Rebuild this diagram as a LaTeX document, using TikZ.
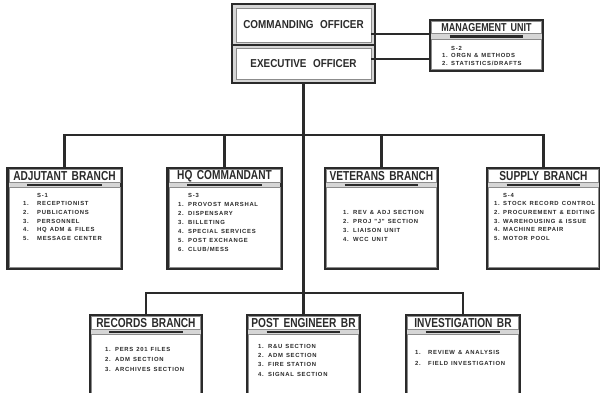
\documentclass[tikz,border=0pt]{standalone}
\usepackage{fontspec}
\setmainfont{Liberation Sans}
\newfontfamily\headfont[FakeStretch=0.78, WordSpace=1.6]{Liberation Sans}
\newfontfamily\chieffont[FakeStretch=0.86, WordSpace=2.4]{Liberation Sans}
\newfontfamily\itemfont[LetterSpace=12, WordSpace=1.3]{Liberation Sans}
\usetikzlibrary{positioning, calc}
\definecolor{ink}{HTML}{2A2A2A}
\definecolor{mat}{HTML}{D6D6D6}
\newcommand{\unitno}[2][10pt]{\makebox[#1][l]{#2}}

\begin{document}
\begin{tikzpicture}[x=1pt, y=1pt,
  frame/.style={draw=ink, line width=2.6pt, fill=mat},
  branch/.style={frame, anchor=north, minimum width=114, minimum height=100},
  panel/.style={draw=black!45, line width=0.6pt, fill=white},
  link/.style={draw=ink, line width=2.6pt},
  ulbar/.style={ink, line width=2.2pt},
  heading/.style={font=\headfont\bfseries\fontsize{#1}{#1}\selectfont, text=ink, inner sep=0},
  heading/.default=13,
  chief/.style={panel, minimum width=135, font=\chieffont\bfseries\fontsize{11.5}{11.5}\selectfont, text=ink},
  bodytext/.style={anchor=north west, align=left, inner sep=0, text=ink,
    font=\itemfont\bfseries\fontsize{5.9}{#1}\selectfont},
  bodytext/.default=8.8
]
  \useasboundingbox (0,0) rectangle (600,392);
  \clip (0,0) rectangle (600,392);

  % Command group
  \node[frame, minimum width=143, minimum height=79] (cmd) at (303.5,348.5) {};
  \node[chief, minimum height=34] (co) at (303.5,367) {COMMANDING OFFICER};
  \node[chief, minimum height=31] (xo) at (303.5,328.5) {EXECUTIVE OFFICER};
  \coordinate (mid) at ($(co.south)!.5!(xo.north)$);
  \draw[link] (mid -| cmd.west) -- (mid -| cmd.east);

  % Staff unit and branches
  \node[frame, minimum width=113, minimum height=51] (mu) at (486.5,346.5) {};
  \node[branch] (adj) at (64.5,225) {};
  \node[branch] (hq) at (224.5,225) {};
  \node[branch, minimum width=113] (vet) at (381.5,225) {};
  \node[branch, minimum width=113] (sup) at (543.5,225) {};
  \node[branch, minimum width=112] (rec) at (146,78) {};
  \node[branch, minimum width=113] (pe) at (303.5,78) {};
  \node[branch] (inv) at (463,78) {};

  \foreach \n in {mu,adj,hq,vet,sup,rec,pe,inv} {
    \draw[panel] ([shift={(2.6,-2.6)}]\n.north west) rectangle ([shift={(-2.6,-15)}]\n.north east);
    \draw[panel] ([shift={(2.6,-20.5)}]\n.north west) rectangle ([shift={(-2.6,2.6)}]\n.south east);
    \draw[ulbar] ($(\n.north west)!.18!(\n.north east)+(0,-17.8)$)
      -- ($(\n.north west)!.82!(\n.north east)+(0,-17.8)$);
  }

  % Titles
  \node[heading=11.5] (mu-t) at ([yshift=-8.5]mu.north) {MANAGEMENT UNIT};
  \node[heading] (adj-t) at ([yshift=-9]adj.north) {ADJUTANT BRANCH};
  \node[heading] (hq-t) at ([yshift=-9]hq.north) {HQ COMMANDANT};
  \node[heading] (vet-t) at ([yshift=-9]vet.north) {VETERANS BRANCH};
  \node[heading] (sup-t) at ([yshift=-9]sup.north) {SUPPLY BRANCH};
  \node[heading] (rec-t) at ([yshift=-9]rec.north) {RECORDS BRANCH};
  \node[heading] (pe-t) at ([yshift=-9]pe.north) {POST ENGINEER BR};
  \node[heading] (inv-t) at ([yshift=-9]inv.north) {INVESTIGATION BR};

  % Duties
  \node[bodytext=7.5] (mu-b) at (442,346)
    {\unitno[9pt]{}S-2\\ \unitno[9pt]{1.}ORGN \& METHODS\\ \unitno[9pt]{2.}STATISTICS/DRAFTS};
  \node[bodytext=8.6] (adj-b) at (23,199)
    {\unitno[14pt]{}S-1\\ \unitno[14pt]{1.}RECEPTIONIST\\ \unitno[14pt]{2.}PUBLICATIONS\\
     \unitno[14pt]{3.}PERSONNEL\\ \unitno[14pt]{4.}HQ ADM \& FILES\\ \unitno[14pt]{5.}MESSAGE CENTER};
  \node[bodytext=9] (hq-b) at (178,199)
    {\unitno{}S-3\\ \unitno{1.}PROVOST MARSHAL\\ \unitno{2.}DISPENSARY\\ \unitno{3.}BILLETING\\
     \unitno{4.}SPECIAL SERVICES\\ \unitno{5.}POST EXCHANGE\\ \unitno{6.}CLUB/MESS};
  \node[bodytext=9] (vet-b) at (343,182)
    {\unitno{1.}REV \& ADJ SECTION\\ \unitno{2.}PROJ "J" SECTION\\ \unitno{3.}LIAISON UNIT\\ \unitno{4.}WCC UNIT};
  \node[bodytext=8.6] (sup-b) at (494,199)
    {\unitno[9pt]{}S-4\\ \unitno[9pt]{1.}STOCK RECORD CONTROL\\ \unitno[9pt]{2.}PROCUREMENT \& EDITING\\
     \unitno[9pt]{3.}WAREHOUSING \& ISSUE\\ \unitno[9pt]{4.}MACHINE REPAIR\\ \unitno[9pt]{5.}MOTOR POOL};
  \node[bodytext=10] (rec-b) at (105,45)
    {\unitno{1.}PERS 201 FILES\\ \unitno{2.}ADM SECTION\\ \unitno{3.}ARCHIVES SECTION};
  \node[bodytext=9.3] (pe-b) at (258,48)
    {\unitno{1.}R\&U SECTION\\ \unitno{2.}ADM SECTION\\ \unitno{3.}FIRE STATION\\ \unitno{4.}SIGNAL SECTION};
  \node[bodytext=11] (inv-b) at (415,42)
    {\unitno[13pt]{1.}REVIEW \& ANALYSIS\\ \unitno[13pt]{2.}FIELD INVESTIGATION};

  % Lines of command
  \coordinate (bus1) at (0,257);
  \coordinate (bus2) at (0,99);
  \path ([yshift=-9]co.east) coordinate (co-r);
  \path ([yshift=4.5]xo.east) coordinate (xo-r);
  \draw[link] (co-r) -- (co-r -| mu.west);
  \draw[link] (xo-r) -- (xo-r -| mu.west);
  \draw[link] (cmd.south) -- (pe.north);
  \draw[link] (adj.north) |- (bus1 -| sup.north) -- (sup.north);
  \draw[link] (hq.north) -- (hq.north |- bus1);
  \draw[link] (vet.north) -- (vet.north |- bus1);
  \draw[link] (rec.north) |- (bus2 -| inv.north) -- (inv.north);
\end{tikzpicture}
\end{document}
